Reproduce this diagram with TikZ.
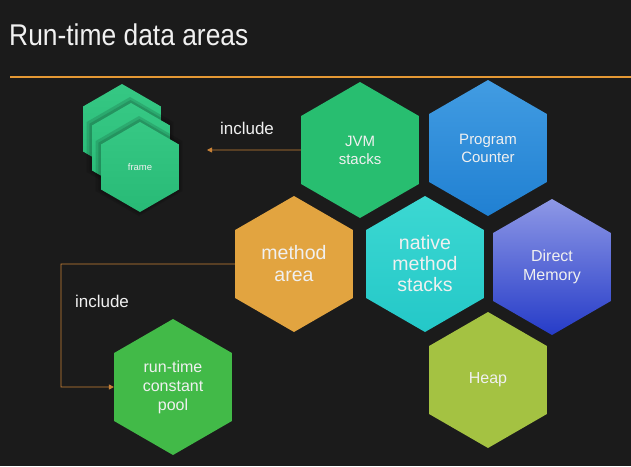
\documentclass[tikz,border=0pt]{standalone}
\usepackage{fontspec}
\setmainfont{Liberation Sans}
\newfontfamily\titlefont[FakeStretch=0.88]{Liberation Sans}
\usetikzlibrary{shapes.geometric,arrows.meta}
\definecolor{bg}{RGB}{27,27,27}
\definecolor{rule}{RGB}{228,152,52}
\definecolor{conncol}{RGB}{200,130,55}
\definecolor{frametop}{RGB}{54,200,132}
\definecolor{framebot}{RGB}{40,186,118}
\definecolor{jvmgreen}{RGB}{40,190,112}
\definecolor{pctop}{RGB}{66,156,226}
\definecolor{pcbot}{RGB}{32,128,210}
\definecolor{methodcol}{RGB}{226,164,64}
\definecolor{nattop}{RGB}{60,216,210}
\definecolor{natbot}{RGB}{36,200,200}
\definecolor{dmtop}{RGB}{142,152,230}
\definecolor{dmbot}{RGB}{38,60,200}
\definecolor{heapcol}{RGB}{164,194,66}
\definecolor{poolcol}{RGB}{66,186,72}
\definecolor{txt}{RGB}{240,240,240}
\tikzset{
  hexa/.style={regular polygon, regular polygon sides=6, shape border rotate=30,
    minimum size=136pt, inner sep=0pt, align=center, text=txt, draw=none},
  framehex/.style={hexa, minimum size=90pt, top color=frametop, bottom color=framebot, font=\fontsize{9.5}{11}\selectfont},
  shadowhex/.style={regular polygon, regular polygon sides=6, shape border rotate=30,
    inner sep=0pt, fill=black, fill opacity=0.13, draw=none},
  conn/.style={draw=conncol, line width=0.9pt, -{Triangle[length=5pt,width=5pt]}},
  lbl/.style={text=txt, font=\fontsize{17}{20}\selectfont, inner sep=0pt}
}
\begin{document}
\begin{tikzpicture}[x=1pt,y=-1pt]
\fill[bg] (0,0) rectangle (631,466);
\useasboundingbox (0,0) rectangle (631,466);
% title and rule
\node[anchor=base west, text=txt, inner sep=0pt, font=\titlefont\fontsize{30}{34}\selectfont] (title) at (9,45) {Run-time data areas};
\draw[rule, line width=2pt] (10,77) -- (631,77);
% frames
\node[framehex] (fr1) at (122,129) {};
\node[shadowhex, minimum size=100pt] (sh2a) at (130,147) {};
\node[shadowhex, minimum size=95pt] (sh2b) at (130.5,147.5) {};
\node[framehex] (fr2) at (131,148) {};
\node[shadowhex, minimum size=100pt] (sh3a) at (139,166) {};
\node[shadowhex, minimum size=95pt] (sh3b) at (139.5,166.5) {};
\node[framehex] (fr3) at (140,167) {frame};
% main hexagons
\node[hexa, fill=jvmgreen, font=\fontsize{15}{18}\selectfont] (jvm) at (360,150) {JVM\\stacks};
\node[hexa, top color=pctop, bottom color=pcbot, font=\fontsize{15}{18}\selectfont] (pc) at (488,148) {Program\\Counter};
\node[hexa, fill=methodcol, font=\fontsize{19.5}{22}\selectfont] (method) at (294,264) {method\\area};
\node[hexa, top color=nattop, bottom color=natbot, font=\fontsize{19.5}{21}\selectfont] (native) at (425,264) {native\\method\\stacks};
\node[hexa, top color=dmtop, bottom color=dmbot, font=\fontsize{16}{19}\selectfont] (dm) at (552,267) {Direct\\Memory};
\node[hexa, fill=heapcol, font=\fontsize{16}{19}\selectfont] (heap) at (488,380) {Heap};
\node[hexa, fill=poolcol, font=\fontsize{16}{19}\selectfont] (pool) at (173,387) {run-time\\constant\\pool};
% connectors
\coordinate (a1) at (207,150);
\coordinate (c2) at (61,264);
\draw[conn] (jvm.west) -- (a1);
\draw[conn] (method.west) -- (c2) |- (pool.west);
\node[lbl] (inc1) at (247,128) {include};
\node[lbl] (inc2) at (102,301) {include};
\end{tikzpicture}
\end{document}
